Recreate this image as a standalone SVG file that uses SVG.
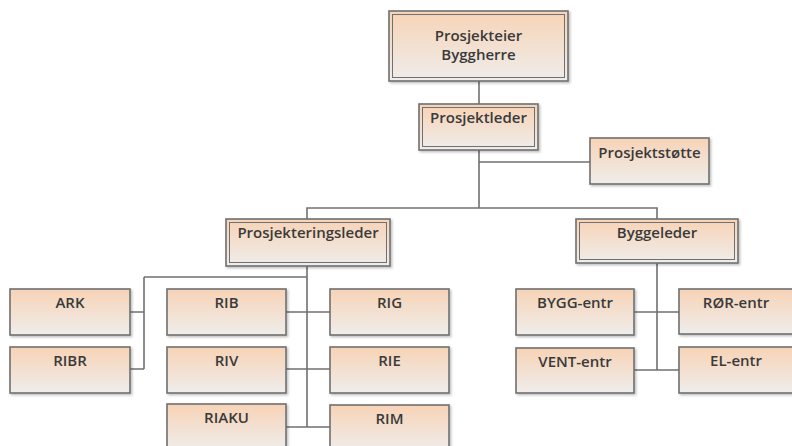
<svg xmlns="http://www.w3.org/2000/svg" width="792" height="446" viewBox="0 0 792 446">
<defs>
<linearGradient id="g" x1="0" y1="0" x2="0" y2="1">
<stop offset="0" stop-color="#F7D3B6"/>
<stop offset="1" stop-color="#EFEDEB"/>
</linearGradient>
<filter id="sh" x="-5%" y="-5%" width="115%" height="125%">
<feDropShadow dx="1.5" dy="1.5" stdDeviation="1" flood-color="#000" flood-opacity="0.25"/>
</filter>
</defs>
<style>
.b{fill:url(#g);stroke:#707070;stroke-width:1.6;filter:url(#sh)}
.i{fill:none;stroke:#707070;stroke-width:1}
.t{font-family:"Open Sans","Liberation Sans",sans-serif;font-size:15px;font-weight:600;fill:#3a3a3a;text-anchor:middle}
.c{fill:none;stroke:#707070;stroke-width:1.6}
</style>
<rect width="792" height="446" fill="#fff"/>
<g id="connectors">
<path class="c" d="M479 81V104"/>
<path class="c" d="M479 150V208M479 162H590"/>
<path class="c" d="M307 219V208H657V219"/>
<path class="c" d="M307 266V427M144 277H307M144 277V369M130 312H144M130 369H144"/>
<path class="c" d="M286 312H330M286 369H330M286 427H330"/>
<path class="c" d="M657 263V370M634 312H679M634 370H679"/>
</g>
<g id="prosjekteier"><rect class="b" x="389" y="11" width="179" height="70"/><rect class="i" x="392.5" y="14.5" width="172" height="63"/><text class="t" x="478.5" y="41">Prosjekteier</text><text class="t" x="478.5" y="60">Byggherre</text></g>
<g id="prosjektleder"><rect class="b" x="419" y="104" width="119" height="46"/><rect class="i" x="422.5" y="107.5" width="112" height="39"/><text class="t" x="478.5" y="123">Prosjektleder</text></g>
<g id="prosjektstotte"><rect class="b" x="590" y="138" width="119" height="46"/><text class="t" x="649.5" y="158">Prosjektstøtte</text></g>
<g id="prosjekteringsleder"><rect class="b" x="226" y="219" width="164" height="47"/><rect class="i" x="229.5" y="222.5" width="157" height="40"/><text class="t" x="308" y="238">Prosjekteringsleder</text></g>
<g id="byggeleder"><rect class="b" x="576" y="219" width="162" height="44"/><rect class="i" x="579.5" y="222.5" width="155" height="37"/><text class="t" x="657" y="238">Byggeleder</text></g>
<g id="ark"><rect class="b" x="10" y="289" width="120" height="46"/><text class="t" x="70" y="308">ARK</text></g>
<g id="ribr"><rect class="b" x="10" y="347" width="120" height="46"/><text class="t" x="70" y="366">RIBR</text></g>
<g id="rib"><rect class="b" x="167" y="289" width="119" height="46"/><text class="t" x="226.5" y="308">RIB</text></g>
<g id="riv"><rect class="b" x="167" y="347" width="119" height="46"/><text class="t" x="226.5" y="366">RIV</text></g>
<g id="riaku"><rect class="b" x="167" y="404" width="119" height="46"/><text class="t" x="226.5" y="423">RIAKU</text></g>
<g id="rig"><rect class="b" x="330" y="289" width="119" height="46"/><text class="t" x="389.5" y="308">RIG</text></g>
<g id="rie"><rect class="b" x="330" y="347" width="119" height="46"/><text class="t" x="389.5" y="366">RIE</text></g>
<g id="rim"><rect class="b" x="330" y="405" width="119" height="46"/><text class="t" x="389.5" y="424">RIM</text></g>
<g id="bygg-entr"><rect class="b" x="516" y="289" width="118" height="46"/><text class="t" x="575" y="308">BYGG-entr</text></g>
<g id="vent-entr"><rect class="b" x="516" y="348" width="118" height="45"/><text class="t" x="575" y="367">VENT-entr</text></g>
<g id="ror-entr"><rect class="b" x="679" y="289" width="119" height="45"/><text class="t" x="736" y="308">RØR-entr</text></g>
<g id="el-entr"><rect class="b" x="679" y="347" width="119" height="46"/><text class="t" x="736" y="366">EL-entr</text></g>
</svg>
